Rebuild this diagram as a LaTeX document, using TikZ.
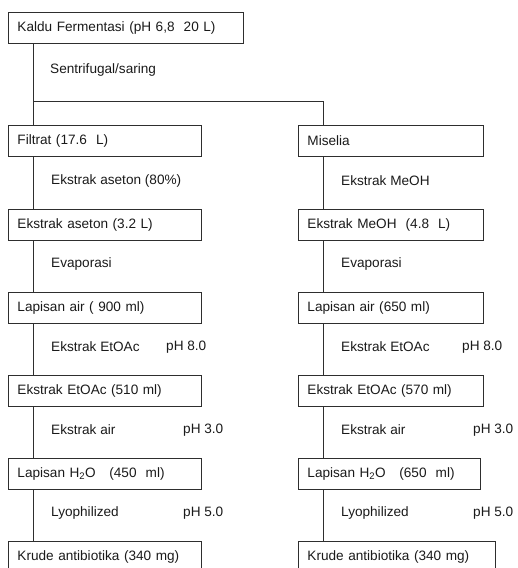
\documentclass[tikz,border=0pt]{standalone}
\usepackage{fontspec}
\setmainfont{Liberation Sans}
\definecolor{boxline}{HTML}{2E2E2E}
\definecolor{flowtext}{HTML}{1A1A1A}
\newcommand{\flowfont}{\fontsize{13.6}{16}\selectfont}

\begin{document}
\begin{tikzpicture}[x=1pt,y=-1pt,font=\flowfont,
  flowbox/.style={draw=boxline,line width=0.9pt,anchor=north west,minimum height=31pt,inner xsep=9pt,align=left,text=flowtext},
  notetext/.style={anchor=west,inner sep=0pt,text=flowtext},
  link/.style={draw=boxline,line width=0.9pt}]
\useasboundingbox (0,0) rectangle (518,568);

\node[flowbox,text width=217pt] (kaldu) at (8,12) {Kaldu Fermentasi (pH 6,8\ \ 20 L)};
\node[notetext] (sentri) at (50,70) {Sentrifugal/saring};
\coordinate (jl) at (33,101);
\coordinate (jr) at (323,101);

% left column
\node[flowbox,text width=175pt] (filtrat) at (8,125) {Filtrat (17.6\ \ L)};
\node[flowbox,text width=175pt] (asetonL) at (8,209) {Ekstrak aseton (3.2 L)};
\node[flowbox,text width=175pt] (airL) at (8,292) {Lapisan air ( 900 ml)};
\node[flowbox,text width=175pt] (etoacL) at (8,375) {Ekstrak EtOAc (510 ml)};
\node[flowbox,text width=175pt] (hdoL) at (8,458) {Lapisan H\textsubscript{2}O\ \ \ (450\ \ ml)};
\node[flowbox,text width=175pt] (krudeL) at (8,541) {Krude antibiotika (340 mg)};

\node[notetext] at (51,181) {Ekstrak aseton (80\%)};
\node[notetext] at (51,264) {Evaporasi};
\node[notetext] at (51,347) {Ekstrak EtOAc};
\node[notetext] at (166,347) {pH 8.0};
\node[notetext] at (51,430) {Ekstrak air};
\node[notetext] at (183,430) {pH 3.0};
\node[notetext] at (51,513) {Lyophilized};
\node[notetext] at (183,513) {pH 5.0};

% right column
\node[flowbox,text width=167pt] (miselia) at (298,125) {Miselia};
\node[flowbox,text width=167pt] (meoh) at (298,209) {Ekstrak MeOH\ \ (4.8\ \ L)};
\node[flowbox,text width=167pt] (airR) at (298,292) {Lapisan air (650 ml)};
\node[flowbox,text width=167pt] (etoacR) at (298,375) {Ekstrak EtOAc (570 ml)};
\node[flowbox,text width=164pt] (hdoR) at (298,458) {Lapisan H\textsubscript{2}O\ \ \ (650\ \ ml)};
\node[flowbox,text width=179pt] (krudeR) at (298,541) {Krude antibiotika (340 mg)};

\node[notetext] at (341,181) {Ekstrak MeOH};
\node[notetext] at (341,264) {Evaporasi};
\node[notetext] at (341,347) {Ekstrak EtOAc};
\node[notetext] at (462,347) {pH 8.0};
\node[notetext] at (341,430) {Ekstrak air};
\node[notetext] at (473,430) {pH 3.0};
\node[notetext] at (341,513) {Lyophilized};
\node[notetext] at (473,513) {pH 5.0};

% connectors
\draw[link] (kaldu.south -| jl) -- (filtrat.north -| jl);
\draw[link] (jl) -- (jr) -- (miselia.north -| jr);
\foreach \a/\b in {filtrat/asetonL,asetonL/airL,airL/etoacL,etoacL/hdoL,hdoL/krudeL}
  \draw[link] (\a.south -| jl) -- (\b.north -| jl);
\foreach \a/\b in {miselia/meoh,meoh/airR,airR/etoacR,etoacR/hdoR,hdoR/krudeR}
  \draw[link] (\a.south -| jr) -- (\b.north -| jr);
\end{tikzpicture}
\end{document}
